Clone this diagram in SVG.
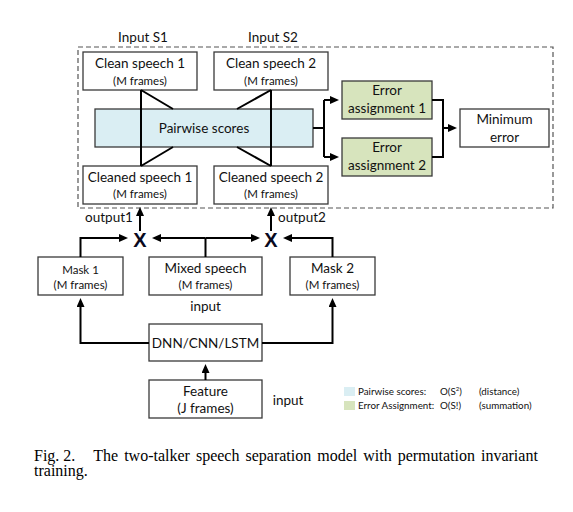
<svg xmlns="http://www.w3.org/2000/svg" width="573" height="512" viewBox="0 0 573 512">
<defs>
<marker id="ah" markerUnits="userSpaceOnUse" markerWidth="10" markerHeight="9" refX="6" refY="4" orient="auto">
<path d="M0,0 L9,4 L0,8 z" fill="#000"/>
</marker>
<style>
.box{fill:#fff;stroke:#3a3a3a;stroke-width:1.3}
.blue{fill:#DAEEF3;stroke:#3a3a3a;stroke-width:1.3}
.green{fill:#D7E4BD;stroke:#3a3a3a;stroke-width:1.3}
.t{font-family:Lato,"Liberation Sans",sans-serif;font-size:13.5px;fill:#111;text-anchor:middle}
.s{font-family:Lato,"Liberation Sans",sans-serif;font-size:11.5px;fill:#111;text-anchor:middle}
.lg{font-family:Lato,"Liberation Sans",sans-serif;font-size:9.8px;fill:#111}
.x{font-family:"Liberation Sans",sans-serif;font-size:20px;font-weight:bold;fill:#0a0a1e;text-anchor:middle}
.c{fill:none;stroke:#000;stroke-width:2}
.cap{font-family:"Liberation Serif",serif;font-size:16px;fill:#000}
</style>
</defs>
<rect x="78" y="47" width="475" height="161" fill="none" stroke="#555" stroke-width="1.2" stroke-dasharray="5,3"/>
<text class="t" x="143" y="42">Input S1</text>
<text class="t" x="273" y="42">Input S2</text>
<g id="clean1"><rect class="box" x="83" y="52" width="114" height="38"/><text class="t" x="140" y="68">Clean speech 1</text><text class="s" x="140" y="84.5">(M frames)</text></g>
<g id="clean2"><rect class="box" x="214" y="52" width="114" height="38"/><text class="t" x="271" y="68">Clean speech 2</text><text class="s" x="271" y="84.5">(M frames)</text></g>
<g id="pairwise"><rect class="blue" x="95" y="109" width="218" height="38"/></g>
<g id="cleaned1"><rect class="box" x="83" y="166" width="114" height="38"/><text class="t" x="140" y="182">Cleaned speech 1</text><text class="s" x="140" y="198">(M frames)</text></g>
<g id="cleaned2"><rect class="box" x="214" y="166" width="114" height="38"/><text class="t" x="271" y="182">Cleaned speech 2</text><text class="s" x="271" y="198">(M frames)</text></g>
<g id="hourglass" class="c">
<path d="M141,90 V166 M141,90 L173,109 M141,166 L173,147"/>
<path d="M271,90 V166 M271,90 L237,109 M271,166 L237,147"/>
</g>
<text class="t" x="204" y="133">Pairwise scores</text>
<g id="ea1"><rect class="green" x="342" y="81" width="90" height="38"/><text class="t" x="387" y="95">Error</text><text class="t" x="387" y="113">assignment 1</text></g>
<g id="ea2"><rect class="green" x="342" y="138" width="90" height="38"/><text class="t" x="387" y="152">Error</text><text class="t" x="387" y="170">assignment 2</text></g>
<g id="minerr"><rect class="box" x="460" y="109" width="89" height="38"/><text class="t" x="504.5" y="124">Minimum</text><text class="t" x="504.5" y="142">error</text></g>
<g id="mask1"><rect class="box" x="38" y="257" width="85" height="38"/><text class="t" x="80.5" y="273.5" style="font-size:11.5px">Mask 1</text><text class="s" x="80.5" y="288.5">(M frames)</text></g>
<g id="mixed"><rect class="box" x="149" y="257" width="113" height="38"/><text class="t" x="205.5" y="273">Mixed speech</text><text class="s" x="205.5" y="289">(M frames)</text></g>
<g id="mask2"><rect class="box" x="290" y="257" width="85" height="38"/><text class="t" x="332.5" y="273">Mask 2</text><text class="s" x="332.5" y="289">(M frames)</text></g>
<text class="t" x="205.5" y="311">input</text>
<g id="dnn"><rect class="box" x="149" y="324" width="113" height="37"/><text class="t" x="205.5" y="348">DNN/CNN/LSTM</text></g>
<g id="feature"><rect class="box" x="149" y="380" width="113" height="38"/><text class="t" x="205.5" y="396">Feature</text><text class="t" x="205.5" y="413">(J frames)</text></g>
<text class="t" x="288" y="404.5">input</text>
<g id="x1"><text class="x" x="140" y="246.5">X</text></g>
<g id="x2"><text class="x" x="271" y="246.5">X</text></g>
<text class="t" x="109" y="222">output1</text>
<text class="t" x="302" y="222">output2</text>
<g id="connectors" class="c">
<path d="M313,128 H324 M324,100 V157"/>
<path d="M324,100 H336" marker-end="url(#ah)"/>
<path d="M324,157 H336" marker-end="url(#ah)"/>
<path d="M432,100 H443 V157 H432"/>
<path d="M443,128 H454" marker-end="url(#ah)"/>
<path d="M80.5,257 V238 H125" marker-end="url(#ah)"/>
<path d="M205.5,257 V238"/>
<path d="M205.5,238 H155" marker-end="url(#ah)"/>
<path d="M205.5,238 H257" marker-end="url(#ah)"/>
<path d="M332.5,257 V238 H286" marker-end="url(#ah)"/>
<path d="M140,231 V210" marker-end="url(#ah)"/>
<path d="M271,231 V210" marker-end="url(#ah)"/>
<path d="M149,343 H80.5 V301" marker-end="url(#ah)"/>
<path d="M262,343 H332.5 V301" marker-end="url(#ah)"/>
<path d="M205.5,380 V367" marker-end="url(#ah)"/>
</g>
<g id="legend">
<rect x="344" y="387" width="11" height="9" fill="#DAEEF3"/>
<rect x="344" y="401" width="11" height="9" fill="#D7E4BD"/>
<text class="lg" x="358" y="394.5">Pairwise scores:</text>
<text class="lg" x="440" y="394.5">O(S<tspan dy="-4" font-size="6">2</tspan><tspan dy="4">)</tspan></text>
<text class="lg" x="479" y="394.5">(distance)</text>
<text class="lg" x="358" y="408.5">Error Assignment:</text>
<text class="lg" x="440" y="408.5">O(S!)</text>
<text class="lg" x="479" y="408.5">(summation)</text>
</g>
<text class="cap"><tspan x="34" y="460.5">Fig. 2.</tspan><tspan x="93.3" y="460.5" word-spacing="2">The two-talker speech separation model with permutation invariant</tspan><tspan x="34" y="476">training.</tspan></text>
</svg>
